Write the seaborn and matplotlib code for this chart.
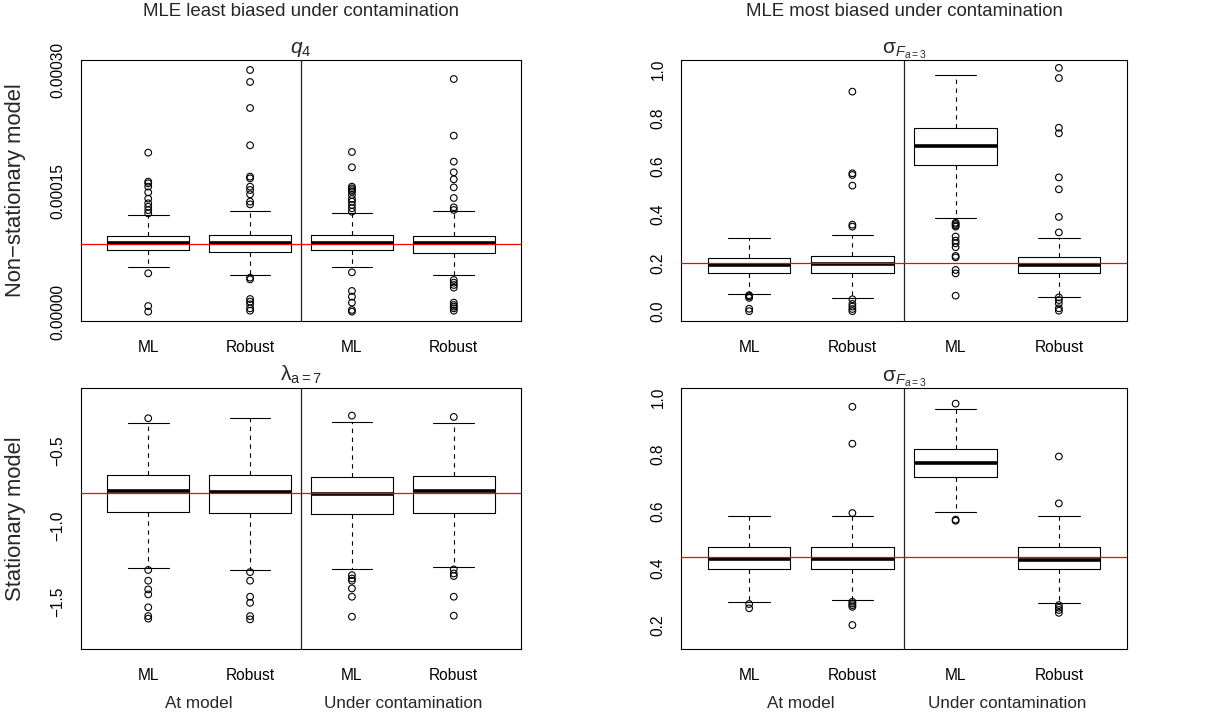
import numpy as np
import pandas as pd
import matplotlib
matplotlib.use("Agg")
import matplotlib.pyplot as plt
import seaborn as sns

# Groups (one box each) and their tick labels
groups = ["ML at model", "Robust at model", "ML contaminated", "Robust contaminated"]
tick_labels = ["ML", "Robust", "ML", "Robust"]
setting_labels = ["At model", "Under contamination"]

# q4, non-stationary model
q4_lo = [5.50e-5, 4.59e-5, 5.50e-5, 4.51e-5]
q4_q1 = [7.61e-5, 7.37e-5, 7.66e-5, 7.28e-5]
q4_med = [8.52e-5, 8.52e-5, 8.57e-5, 8.48e-5]
q4_q3 = [9.43e-5, 9.52e-5, 9.48e-5, 9.35e-5]
q4_hi = [12.04e-5, 12.54e-5, 12.21e-5, 12.46e-5]
q4_out = [
    [19.74e-5, 16.14e-5, 15.93e-5, 15.52e-5, 14.81e-5, 14.03e-5, 13.45e-5, 13.03e-5, 12.6e-5, 12.2e-5, 4.76e-5, 0.70e-5, 0.0],
    [30.0e-5, 28.51e-5, 25.28e-5, 20.65e-5, 16.76e-5, 16.55e-5, 15.52e-5, 15.1e-5, 14.57e-5, 13.66e-5, 13.32e-5,
     4.22e-5, 4.01e-5, 1.57e-5, 1.24e-5, 0.91e-5, 0.41e-5, 0.12e-5],
    [19.82e-5, 17.92e-5, 15.52e-5, 15.31e-5, 15.1e-5, 14.9e-5, 14.48e-5, 13.99e-5, 13.66e-5, 13.24e-5, 12.83e-5, 12.41e-5,
     4.88e-5, 2.57e-5, 1.86e-5, 1.12e-5, 0.21e-5, 0.0],
    [28.88e-5, 21.85e-5, 18.62e-5, 17.3e-5, 16.43e-5, 15.43e-5, 14.11e-5, 12.95e-5, 12.62e-5,
     3.93e-5, 3.6e-5, 3.31e-5, 2.98e-5, 1.12e-5, 0.83e-5, 0.62e-5, 0.41e-5, 0.12e-5],
]
q4_true = 8.45e-5

# sigma_F, non-stationary model
sn_lo = [0.0715, 0.0578, 0.3865, 0.0619]
sn_q1 = [0.161, 0.158, 0.605, 0.158]
sn_med = [0.193, 0.195, 0.682, 0.193]
sn_q3 = [0.223, 0.231, 0.759, 0.224]
sn_hi = [0.303, 0.318, 0.975, 0.303]
sn_out = [
    [0.068, 0.063, 0.057, 0.012, 0.002],
    [0.908, 0.571, 0.564, 0.52, 0.359, 0.351, 0.051, 0.032, 0.021, 0.011, 0.002],
    [0.367, 0.362, 0.356, 0.351, 0.31, 0.293, 0.282, 0.266, 0.23, 0.224, 0.172, 0.158, 0.066],
    [1.006, 0.964, 0.759, 0.736, 0.554, 0.505, 0.391, 0.327, 0.059, 0.048, 0.034, 0.014, 0.004],
]
sn_true = 0.2

# lambda_a=7, stationary model
lam_lo = [-1.2775, -1.2907, -1.2863, -1.2731]
lam_q1 = [-0.9097, -0.9163, -0.9207, -0.9119]
lam_med = [-0.7687, -0.7709, -0.7841, -0.7687]
lam_q3 = [-0.6608, -0.6608, -0.6718, -0.6652]
lam_hi = [-0.3194, -0.2819, -0.3106, -0.315]
lam_out = [
    [-0.2863, -1.29, -1.361, -1.4185, -1.4515, -1.537, -1.595, -1.612],
    [-1.304, -1.361, -1.467, -1.507, -1.595, -1.617],
    [-0.2687, -1.324, -1.346, -1.361, -1.412, -1.467, -1.599],
    [-0.2775, -1.2863, -1.313, -1.330, -1.467, -1.5925],
]
lam_true = -0.78

# sigma_F, stationary model
ss_lo = [0.281, 0.288, 0.597, 0.2785]
ss_q1 = [0.3956, 0.398, 0.7212, 0.3956]
ss_med = [0.4307, 0.4331, 0.7704, 0.4284]
ss_q3 = [0.4729, 0.4729, 0.8184, 0.4729]
ss_hi = [0.5854, 0.5854, 0.9613, 0.5854]
ss_out = [
    [0.274, 0.259],
    [0.968, 0.838, 0.594, 0.282, 0.276, 0.270, 0.264, 0.2],
    [0.979, 0.571, 0.567],
    [0.793, 0.628, 0.270, 0.261, 0.253, 0.243],
]
ss_true = 0.44

# Style
sns.set_style("white", {"axes.edgecolor": "black"})
plt.rcParams["font.family"] = ["Liberation Sans", "DejaVu Sans"]
plt.rcParams["mathtext.fontset"] = "custom"
plt.rcParams["mathtext.rm"] = "Liberation Sans"
plt.rcParams["mathtext.it"] = "Liberation Sans:italic"
plt.rcParams["mathtext.sf"] = "Liberation Sans"
plt.rcParams["axes.unicode_minus"] = True


def box_frame(lo, q1, med, q3, hi):
    # sample holding exactly the read quartiles, whisker ends at min/max
    rows = []
    for g, a, b, c, d, e in zip(groups, lo, q1, med, q3, hi):
        vals = [a] + [b] * 50 + [c] * 50 + [d] * 50 + [e]
        rows += [(g, v) for v in vals]
    return pd.DataFrame(rows, columns=["group", "value"])


def outlier_frame(out):
    rows = [(g, v) for g, vals in zip(groups, out) for v in vals]
    return pd.DataFrame(rows, columns=["group", "value"])


def draw_panel(ax, box_df, out_df, true_value, title, yticks, ylabels, ylim, bottom_row):
    sns.boxplot(
        data=box_df, x="group", y="value", order=groups, ax=ax,
        whis=(0, 100), showfliers=False, fill=False,
        color="black", linecolor="black", linewidth=0.8, width=0.8,
        capwidths=0.4,
        medianprops=dict(linewidth=2.6, color="black"),
        whiskerprops=dict(linestyle=(0, (4, 4))),
    )
    sns.stripplot(
        data=out_df, x="group", y="value", order=groups, ax=ax,
        jitter=False, color="black", facecolor="none",
        edgecolor="black", linewidth=0.8, size=4.8,
    )
    ax.axhline(true_value, color="#ff0000", lw=0.9, zorder=6)
    ax.axvline(1.5, color="#222222", lw=0.9)
    ax.set_xlim(-0.66, 3.66)
    ax.set_ylim(*ylim)
    ax.set_xticks(range(4), tick_labels)
    ax.set_yticks(yticks, ylabels)
    ax.set_xlabel("")
    ax.set_ylabel("")
    ax.tick_params(axis="both", length=7, width=0.8, color="black", labelsize=11.2, labelcolor="black")
    ax.tick_params(axis="x", pad=6.5)
    ax.tick_params(axis="y", labelrotation=90, pad=4)
    plt.setp(ax.get_yticklabels(), va="center")
    for s in ax.spines.values():
        s.set_color("black")
        s.set_linewidth(0.8)
    ax.set_title(title, fontsize=15, pad=5)
    if bottom_row:
        for xpos, lab in zip([0.5, 2.5], setting_labels):
            ax.text(xpos, -0.207, lab, transform=ax.get_xaxis_transform(),
                    ha="center", va="center", fontsize=12.3)


fig = plt.figure(figsize=(12.23, 7.2), dpi=100)
W, H = 1223, 720
left_x = (81, 521)
right_x = (681, 1127)
top_y = (60, 321)
bot_y = (388, 649)


def make_axes(xr, yr):
    return fig.add_axes([xr[0] / W, 1 - yr[1] / H, (xr[1] - xr[0]) / W, (yr[1] - yr[0]) / H])


ax_tl = make_axes(left_x, top_y)
ax_tr = make_axes(right_x, top_y)
ax_bl = make_axes(left_x, bot_y)
ax_br = make_axes(right_x, bot_y)

q4_ticks = [0, 5e-5, 10e-5, 15e-5, 20e-5, 25e-5, 30e-5]
q4_tick_labels = ["0.00000", "", "", "0.00015", "", "", "0.00030"]
draw_panel(ax_tl, box_frame(q4_lo, q4_q1, q4_med, q4_q3, q4_hi), outlier_frame(q4_out), q4_true,
           r"$q_4$", q4_ticks, q4_tick_labels, (-1.16e-5, 31.24e-5), False)

s_ticks = [0.0, 0.2, 0.4, 0.6, 0.8, 1.0]
draw_panel(ax_tr, box_frame(sn_lo, sn_q1, sn_med, sn_q3, sn_hi), outlier_frame(sn_out), sn_true,
           r"$\mathrm{\sigma}_{F_{a=3}}$", s_ticks, [f"{t:.1f}" for t in s_ticks], (-0.0385, 1.0385), False)

lam_ticks = [-1.5, -1.0, -0.5]
draw_panel(ax_bl, box_frame(lam_lo, lam_q1, lam_med, lam_q3, lam_hi), outlier_frame(lam_out), lam_true,
           r"$\mathrm{\lambda_{a=7}}$", lam_ticks, ["\u22121.5", "\u22121.0", "\u22120.5"], (-1.8128, -0.086), True)

ss_ticks = [0.2, 0.4, 0.6, 0.8, 1.0]
draw_panel(ax_br, box_frame(ss_lo, ss_q1, ss_med, ss_q3, ss_hi), outlier_frame(ss_out), ss_true,
           r"$\mathrm{\sigma}_{F_{a=3}}$", ss_ticks, [f"{t:.1f}" for t in ss_ticks], (0.1157, 1.034), True)

# Column and row headings
fig.text(301 / W, 1 - 12 / H, "MLE least biased under contamination", ha="center", va="center", fontsize=13.4)
fig.text(904 / W, 1 - 12 / H, "MLE most biased under contamination", ha="center", va="center", fontsize=13.4)
fig.text(16 / W, 1 - 190.5 / H, "Non\u2212stationary model", rotation=90, ha="center", va="center", fontsize=15.8)
fig.text(16 / W, 1 - 518.5 / H, "Stationary model", rotation=90, ha="center", va="center", fontsize=15.8)

fig.savefig("out.png", dpi=100, facecolor="white")
